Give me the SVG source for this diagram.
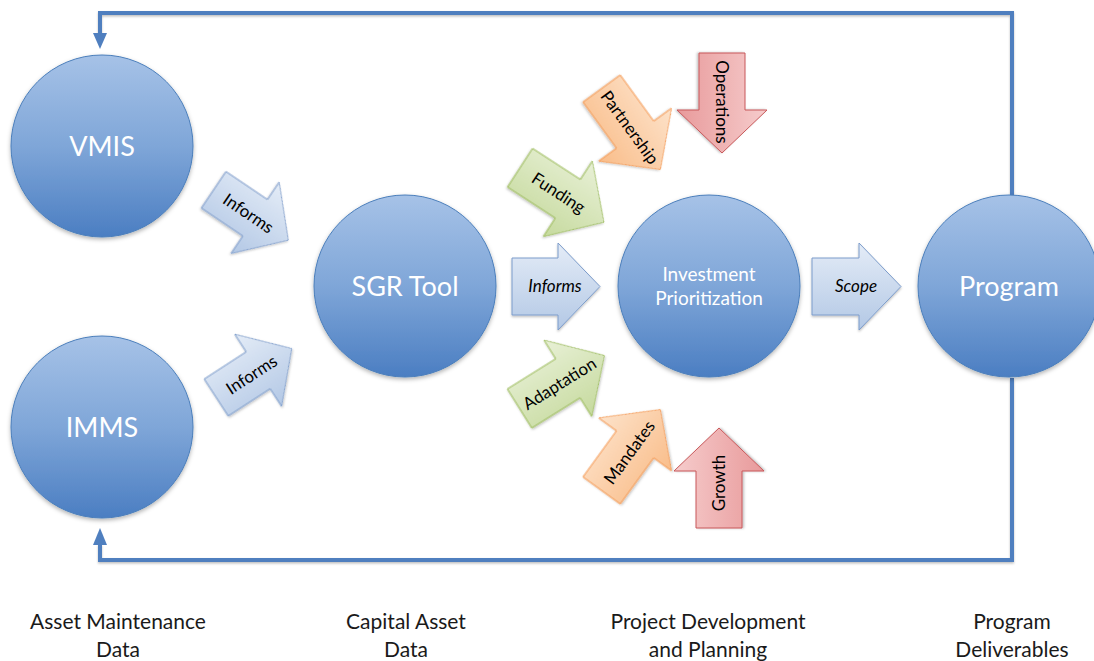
<svg xmlns="http://www.w3.org/2000/svg" width="1094" height="661" viewBox="0 0 1094 661">
  <style>
    .circ { fill: url(#gCirc); stroke: #4a7ebb; stroke-width: 1; filter: url(#sh); }
    .ctext { font-family: Lato, "Liberation Sans", sans-serif; fill: #ffffff; text-anchor: middle; }
    .atext { font-family: Lato, "Liberation Sans", sans-serif; fill: #000000; text-anchor: middle; font-size: 17px; }
    .it { font-style: italic; }
    .blue { fill: url(#gBlue); stroke: #7c9ccb; stroke-width: 1; filter: url(#sh2); }
    .green { fill: url(#gGreen); stroke: #9bbb59; stroke-width: 1; filter: url(#sh2); }
    .orange { fill: url(#gOrange); stroke: #f59a52; stroke-width: 1; filter: url(#sh2); }
    .red { fill: url(#gRed); stroke: #c8585a; stroke-width: 1; filter: url(#sh2); }
    .conn { fill: none; stroke: #4f7fbf; stroke-width: 4; filter: url(#sh2); }
    .btext { font-family: Lato, "Liberation Sans", sans-serif; fill: #1a1a1a; text-anchor: middle; font-size: 21px; }
  </style>
  <defs>
    <linearGradient id="gCirc" x1="0" y1="0" x2="0" y2="1">
      <stop offset="0" stop-color="#a6c2e7"/>
      <stop offset="0.5" stop-color="#7fa6d8"/>
      <stop offset="1" stop-color="#4b7ec2"/>
    </linearGradient>
    <linearGradient id="gBlue" x1="0" y1="0" x2="0" y2="1">
      <stop offset="0" stop-color="#e4ecf7"/>
      <stop offset="1" stop-color="#b3c8e5"/>
    </linearGradient>
    <linearGradient id="gGreen" x1="0" y1="0" x2="0" y2="1">
      <stop offset="0" stop-color="#e8f0d6"/>
      <stop offset="1" stop-color="#c6da9e"/>
    </linearGradient>
    <linearGradient id="gOrange" x1="0" y1="0" x2="0" y2="1">
      <stop offset="0" stop-color="#fde2c9"/>
      <stop offset="1" stop-color="#f9bd8a"/>
    </linearGradient>
    <linearGradient id="gRed" x1="0" y1="0" x2="0" y2="1">
      <stop offset="0" stop-color="#f6cccc"/>
      <stop offset="1" stop-color="#e89a9b"/>
    </linearGradient>
    <filter id="sh" x="-20%" y="-20%" width="140%" height="140%">
      <feDropShadow dx="0" dy="2" stdDeviation="2" flood-color="#000000" flood-opacity="0.3"/>
    </filter>
    <filter id="sh2" x="-20%" y="-20%" width="140%" height="140%">
      <feDropShadow dx="0" dy="1.5" stdDeviation="1.2" flood-color="#000000" flood-opacity="0.25"/>
    </filter>
    <path id="arrBlue" d="M-45,-22 H5 V-43 L45,0 L5,43 V22 H-45 Z"/>
    <path id="arrCol" d="M-50,-23 H7 V-45 L50,0 L7,45 V23 H-50 Z"/>
  </defs>

  <g id="connectors">
    <path class="conn" d="M1012,195 V13 H100 V34"/>
    <path d="M93,33 H107 L100,49 Z" fill="#4f7fbf"/>
    <path class="conn" d="M1012,378 V560 H100 V544"/>
    <path d="M93,545 H107 L100,528 Z" fill="#4f7fbf"/>
  </g>

  <g id="vmis">
    <circle class="circ" cx="102" cy="146" r="91"/>
    <text class="ctext" x="102" y="156" font-size="27">VMIS</text>
  </g>
  <g id="imms">
    <circle class="circ" cx="102" cy="427" r="91"/>
    <text class="ctext" x="102" y="437" font-size="27">IMMS</text>
  </g>
  <g id="sgr-tool">
    <circle class="circ" cx="405" cy="286" r="91"/>
    <text class="ctext" x="405" y="296" font-size="27">SGR Tool</text>
  </g>
  <g id="investment-prioritization">
    <circle class="circ" cx="709" cy="286" r="91"/>
    <text class="ctext" x="709" y="281" font-size="19">Investment</text>
    <text class="ctext" x="709" y="305" font-size="19">Prioritization</text>
  </g>
  <g id="program">
    <circle class="circ" cx="1009" cy="286" r="91"/>
    <text class="ctext" x="1009" y="296" font-size="27">Program</text>
  </g>

  <g id="informs-vmis">
    <g transform="translate(251,215) rotate(34)">
      <use href="#arrBlue" class="blue"/>
      <text class="atext" x="-3" y="6">Informs</text>
    </g>
  </g>
  <g id="informs-imms">
    <g transform="translate(254,373) rotate(-33)">
      <use href="#arrBlue" class="blue"/>
      <text class="atext" x="-3" y="6">Informs</text>
    </g>
  </g>
  <g id="informs-sgr">
    <path class="blue" d="M512,258 H558 V243 L600,286.5 L558,330 V315 H512 Z"/>
    <text class="atext it" x="555" y="292">Informs</text>
  </g>
  <g id="scope">
    <path class="blue" d="M812,258 H859 V243 L901,286.5 L859,330 V315 H812 Z"/>
    <text class="atext it" x="856" y="292">Scope</text>
  </g>

  <g id="funding">
    <g transform="translate(562,195) rotate(33)">
      <use href="#arrCol" class="green"/>
      <text class="atext" x="-4" y="6">Funding</text>
    </g>
  </g>
  <g id="partnership">
    <g transform="translate(631,129) rotate(54)">
      <use href="#arrCol" class="orange"/>
      <text class="atext" x="-2" y="6">Partnership</text>
    </g>
  </g>
  <g id="operations">
    <g transform="translate(722,103) rotate(90)">
      <use href="#arrCol" class="red"/>
      <text class="atext" x="-1" y="6">Operations</text>
    </g>
  </g>
  <g id="adaptation">
    <g transform="translate(562,382) rotate(-32)">
      <use href="#arrCol" class="green"/>
      <text class="atext" x="-3" y="6">Adaptation</text>
    </g>
  </g>
  <g id="mandates">
    <g transform="translate(631,450) rotate(-54)">
      <use href="#arrCol" class="orange"/>
      <text class="atext" x="-3" y="6">Mandates</text>
    </g>
  </g>
  <g id="growth">
    <g transform="translate(719,478) rotate(-90)">
      <use href="#arrCol" class="red"/>
      <text class="atext" x="-5" y="6">Growth</text>
    </g>
  </g>

  <g id="labels">
    <text class="btext" x="118" y="629">Asset Maintenance</text>
    <text class="btext" x="118" y="657">Data</text>
    <text class="btext" x="406" y="629">Capital Asset</text>
    <text class="btext" x="406" y="657">Data</text>
    <text class="btext" x="708" y="629">Project Development</text>
    <text class="btext" x="708" y="657">and Planning</text>
    <text class="btext" x="1012" y="629">Program</text>
    <text class="btext" x="1012" y="657">Deliverables</text>
  </g>
</svg>
